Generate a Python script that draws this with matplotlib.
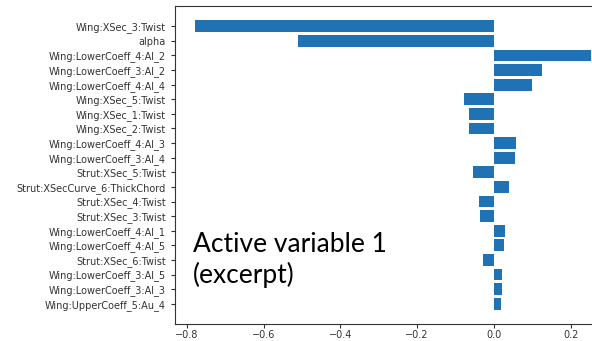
import matplotlib
matplotlib.use("Agg")
import matplotlib.pyplot as plt

labels = ["Wing:XSec_3:Twist", "alpha", "Wing:LowerCoeff_4:Al_2", "Wing:LowerCoeff_3:Al_2",
          "Wing:LowerCoeff_4:Al_4", "Wing:XSec_5:Twist", "Wing:XSec_1:Twist", "Wing:XSec_2:Twist",
          "Wing:LowerCoeff_4:Al_3", "Wing:LowerCoeff_3:Al_4", "Strut:XSec_5:Twist",
          "Strut:XSecCurve_6:ThickChord", "Strut:XSec_4:Twist", "Strut:XSec_3:Twist",
          "Wing:LowerCoeff_4:Al_1", "Wing:LowerCoeff_4:Al_5", "Strut:XSec_6:Twist",
          "Wing:LowerCoeff_3:Al_5", "Wing:LowerCoeff_3:Al_3", "Wing:UpperCoeff_5:Au_4"]
values = [-0.779, -0.510, 0.253, 0.125, 0.100, -0.078, -0.065, -0.065, 0.057, 0.055,
          -0.054, 0.040, -0.039, -0.036, 0.029, 0.027, -0.028, 0.021, 0.021, 0.019]
xticks = [-0.8, -0.6, -0.4, -0.2, 0.0, 0.2]
annotation = ["Active variable 1", "(excerpt)"]

W, H = 592, 341
fig = plt.figure(figsize=(W/100, H/100), dpi=100)
left, right, top, bottom = 175, 611, 6, 324
ax = fig.add_axes([left/W, 1-bottom/H, (right-left)/W, (bottom-top)/H])
ax.barh(range(len(values)), values, color="#1f72b4")
ax.invert_yaxis()
ax.set_yticks(range(len(labels)))
ax.set_yticklabels(labels)
ax.set_xticks(xticks)
ax.set_xticklabels([f"{t:.1f}".replace("-", "\u2212") for t in xticks])
ax.tick_params(labelsize=7, colors="#333333", length=3)
ax.tick_params(axis="x", pad=1.5)
for s in ax.spines.values():
    s.set_color("#333333")

for line, yb in zip(annotation, [252, 283]):
    fig.text(193/W, 1-yb/H, line, fontsize=19, family="Lato",
             ha="left", va="baseline", color="black")

fig.savefig("out.png", dpi=100)
